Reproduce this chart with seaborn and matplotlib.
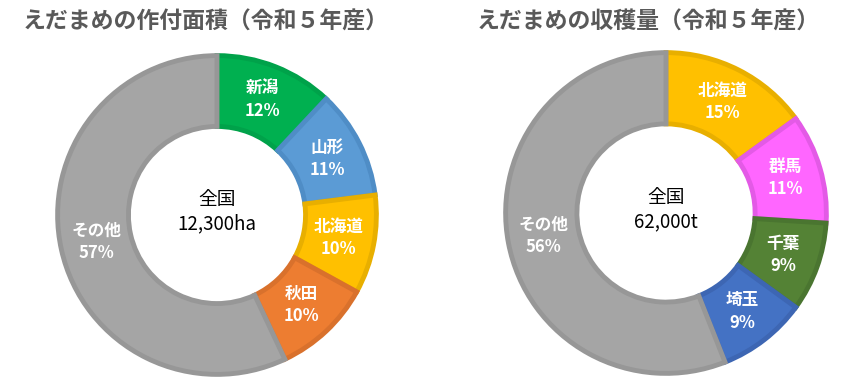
import matplotlib
matplotlib.use("Agg")
import matplotlib.pyplot as plt
import seaborn as sns
import numpy as np

sns.set_theme(style="white")
plt.rcParams['font.family'] = ['Noto Sans CJK JP', 'DejaVu Sans']

# Left chart: planted area
left_title = "えだまめの作付面積（令和５年産）"
left_total = "全国\n12,300ha"
left_labels = ["新潟", "山形", "北海道", "秋田", "その他"]
left_values = [12, 11, 10, 10, 57]
left_colors = ["#00B050", "#5B9BD5", "#FFC000", "#ED7D31", "#A5A5A5"]
left_edges = ["#00A24A", "#4F8DC6", "#E8AF00", "#D9712C", "#979797"]

# Right chart: harvest
right_title = "えだまめの収穫量（令和５年産）"
right_total = "全国\n62,000t"
right_labels = ["北海道", "群馬", "千葉", "埼玉", "その他"]
right_values = [15, 11, 9, 9, 56]
right_colors = ["#FFC000", "#FF66FF", "#548235", "#4472C4", "#A5A5A5"]
right_edges = ["#E8AF00", "#E35AE6", "#4A7530", "#3D66B3", "#979797"]

W, H = 865, 386
fig = plt.figure(figsize=(W / 100, H / 100), dpi=100)


def donut(cx, cy, r, labels, values, colors, edges, total):
    ax = fig.add_axes([(cx - r) / W, (H - cy - r) / H, 2 * r / W, 2 * r / H])
    wedges, _ = ax.pie(values, colors=colors, startangle=90, counterclock=False,
                       radius=0.99, wedgeprops=dict(width=0.44, linewidth=3.5),
                       labels=None)
    ax.set_xlim(-1, 1)
    ax.set_ylim(-1, 1)
    ax.axis("off")
    for w, ec in zip(wedges, edges):
        w.set_edgecolor(ec)
        w.set_clip_on(False)
    cum = 0
    tot = sum(values)
    for lab, v in zip(labels, values):
        mid = 90 - (cum + v / 2) / tot * 360
        cum += v
        rr = 0.77
        x = rr * np.cos(np.radians(mid))
        y = rr * np.sin(np.radians(mid))
        ax.text(x, y, f"{lab}\n{v}%", ha="center", va="center", color="white",
                fontsize=12, fontweight="bold", linespacing=1.3)
    ax.text(0, 0.02, total, ha="center", va="center", color="black",
            fontsize=13.5, linespacing=1.2)
    return ax


donut(217, 215, 161, left_labels, left_values, left_colors, left_edges, left_total)
donut(666, 213, 162, right_labels, right_values, right_colors, right_edges, right_total)

fig.text(206 / W, 1 - 22 / H, left_title, ha="center", va="center",
         fontsize=16.5, fontweight="bold", color="#595959")
fig.text(648 / W, 1 - 22 / H, right_title, ha="center", va="center",
         fontsize=16.5, fontweight="bold", color="#595959")

fig.savefig("out.png", dpi=100)
